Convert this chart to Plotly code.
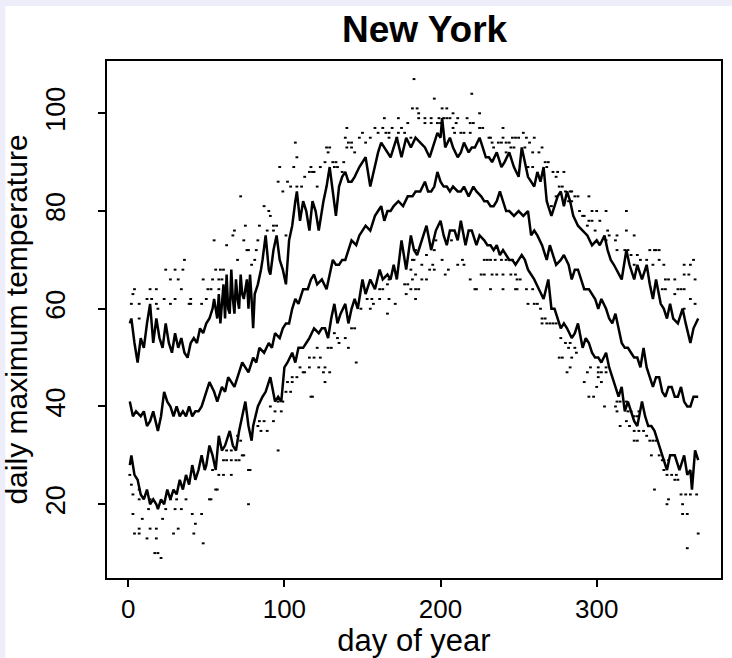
import plotly.graph_objects as go

# ---- upper curve ----
upper_days = [1, 2, 4, 6, 8, 10, 12, 14, 16, 18, 20, 22, 24, 26, 28, 30, 32, 34, 36, 38,
              40, 42, 44, 46, 48, 50, 52, 54, 55, 57, 58, 59, 60, 61, 62, 63, 64, 65, 66, 67,
              68, 69, 70, 71, 72, 73, 74, 75, 76, 77, 78, 79, 80, 81, 83, 85, 86, 88, 90, 91,
              93, 95, 97, 99, 101, 103, 105, 107, 108, 110, 112, 114, 116, 118, 120, 122, 125, 127, 129, 131,
              133, 135, 137, 139, 141, 143, 145, 148, 150, 152, 155, 158, 160, 162, 164, 166, 168, 170, 172, 175,
              178, 181, 184, 187, 190, 193, 196, 198, 200, 201, 203, 206, 208, 211, 213, 215, 218, 220, 222, 225,
              227, 229, 231, 233, 236, 239, 241, 244, 247, 250, 252, 254, 256, 258, 260, 262, 264, 266, 268, 270,
              271, 273, 275, 277, 279, 281, 283, 285, 288, 291, 294, 297, 300, 302, 305, 307, 309, 311, 314, 316,
              319, 321, 324, 326, 329, 332, 334, 336, 338, 341, 343, 345, 347, 349, 352, 355, 357, 359, 360, 362,
              365]
upper_vals = [57, 58, 53, 49, 54, 52, 57, 61, 53, 58, 54, 52, 57, 53, 51, 55, 52, 54, 51, 50,
              53, 54, 53, 56, 55, 57, 58, 60, 62, 58, 63, 57, 61, 65, 58, 67, 60, 59, 68, 62,
              59, 66, 62, 60, 67, 63, 62, 64, 66, 60, 67, 62, 56, 63, 65, 68, 70, 75, 68, 67,
              72, 75, 70, 68, 65, 74, 77, 82, 84, 78, 82, 80, 76, 82, 80, 76, 82, 85, 89, 84,
              79, 85, 87, 88, 86, 86, 87, 89, 90, 91, 85, 89, 92, 94, 93, 92, 91, 93, 95, 91,
              95, 93, 95, 94, 93, 91, 94, 96, 95, 99, 93, 95, 93, 91, 92, 94, 92, 93, 93, 95,
              93, 91, 91, 90, 92, 89, 90, 92, 89, 87, 93, 90, 87, 86, 85, 88, 86, 89, 82, 80,
              79, 81, 83, 84, 81, 84, 82, 79, 77, 76, 75, 73, 74, 73, 75, 72, 70, 69, 67, 66,
              72, 69, 66, 69, 66, 69, 65, 62, 66, 61, 60, 58, 61, 58, 57, 60, 57, 54, 53, 56,
              58]

# ---- middle curve ----
middle_days = [1, 3, 5, 8, 10, 12, 14, 16, 19, 21, 23, 25, 27, 29, 31, 33, 35, 37, 39, 41,
               43, 45, 47, 49, 52, 55, 57, 60, 62, 64, 66, 68, 70, 73, 75, 77, 80, 82, 84, 87,
               90, 92, 94, 97, 99, 101, 103, 105, 107, 109, 112, 115, 117, 119, 121, 124, 127, 129, 131, 133,
               135, 137, 139, 141, 143, 146, 148, 150, 152, 155, 158, 160, 162, 164, 166, 168, 170, 173, 176, 179,
               182, 184, 187, 190, 192, 194, 196, 198, 200, 202, 204, 206, 208, 211, 213, 215, 218, 221, 223, 226,
               228, 230, 232, 234, 236, 238, 240, 242, 244, 247, 250, 253, 256, 258, 260, 262, 265, 268, 270, 272,
               274, 277, 279, 282, 284, 286, 288, 290, 292, 295, 297, 299, 301, 303, 306, 308, 310, 312, 314, 316,
               318, 320, 322, 324, 326, 328, 330, 332, 334, 336, 338, 340, 342, 344, 346, 348, 350, 352, 354, 356,
               358, 360, 362, 365]
middle_vals = [41, 38, 39, 38, 39, 36, 37, 39, 35, 38, 43, 41, 40, 38, 40, 38, 39, 38, 40, 38,
               39, 39, 40, 42, 45, 43, 41, 44, 43, 46, 45, 44, 46, 49, 48, 47, 50, 49, 52, 51,
               53, 52, 55, 54, 56, 57, 57, 60, 62, 61, 64, 64, 66, 67, 65, 66, 64, 67, 70, 69,
               69, 70, 70, 72, 74, 73, 75, 76, 77, 76, 79, 80, 81, 78, 80, 80, 81, 82, 81, 83,
               83, 84, 84, 86, 84, 84, 85, 88, 86, 85, 85, 84, 85, 84, 84, 85, 83, 85, 84, 83,
               82, 82, 81, 81, 82, 84, 82, 80, 80, 79, 80, 79, 80, 75, 76, 75, 73, 70, 73, 71,
               69, 70, 71, 69, 66, 68, 68, 66, 64, 64, 63, 62, 60, 62, 60, 58, 57, 59, 56, 53,
               52, 52, 51, 50, 50, 48, 52, 48, 46, 44, 46, 46, 43, 42, 44, 44, 42, 42, 44, 41,
               40, 40, 42, 42]

# ---- lower curve ----
lower_days = [1, 2, 4, 6, 8, 10, 12, 14, 16, 18, 19, 21, 23, 25, 27, 29, 31, 33, 35, 37,
              39, 41, 43, 45, 47, 49, 50, 52, 54, 56, 58, 60, 62, 65, 67, 69, 71, 73, 75, 77,
              79, 80, 83, 86, 88, 91, 94, 96, 98, 100, 102, 105, 107, 109, 112, 114, 116, 119, 122, 124,
              126, 128, 130, 132, 134, 136, 139, 141, 143, 145, 147, 150, 152, 155, 158, 161, 163, 166, 168, 170,
              172, 175, 178, 181, 183, 185, 187, 189, 191, 194, 197, 200, 202, 204, 206, 209, 211, 213, 216, 218,
              220, 223, 225, 228, 230, 232, 234, 236, 238, 240, 242, 244, 246, 248, 250, 252, 254, 256, 258, 260,
              263, 266, 269, 271, 273, 275, 277, 279, 281, 284, 286, 288, 291, 293, 295, 297, 299, 301, 303, 306,
              308, 310, 312, 314, 316, 318, 320, 322, 324, 326, 329, 331, 333, 335, 337, 339, 341, 343, 345, 347,
              350, 352, 353, 356, 358, 360, 361, 363, 365]
lower_vals = [28, 30, 26, 25, 22, 21, 23, 20, 21, 20, 19, 21, 20, 23, 21, 23, 22, 25, 23, 26,
              24, 28, 25, 27, 30, 27, 28, 32, 30, 27, 34, 31, 32, 35, 32, 31, 35, 38, 41, 36,
              33, 36, 40, 42, 43, 46, 41, 42, 41, 48, 49, 51, 49, 52, 52, 53, 54, 56, 55, 56,
              56, 54, 58, 61, 57, 59, 61, 57, 60, 62, 60, 66, 63, 66, 64, 68, 66, 67, 66, 69,
              66, 74, 68, 75, 72, 71, 73, 75, 77, 72, 76, 78, 75, 73, 76, 76, 74, 78, 73, 76,
              76, 73, 75, 74, 73, 73, 72, 73, 71, 72, 71, 70, 70, 69, 70, 71, 70, 68, 67, 66,
              64, 62, 66, 60, 60, 58, 56, 57, 56, 54, 55, 57, 52, 54, 53, 51, 50, 50, 49, 51,
              48, 46, 44, 42, 44, 39, 41, 39, 37, 36, 41, 38, 36, 36, 35, 33, 31, 29, 27, 30,
              30, 28, 27, 30, 26, 27, 23, 31, 29]

# ---- extreme observations above the upper curve ----
high_days = [36, 24, 30, 35, 27, 32, 48, 4, 3, 14, 18, 34, 51, 12, 15, 23, 30, 40, 50, 2, 7, 18, 27, 40, 47, 7, 19, 39,
             107, 108, 97, 106, 117, 116, 118, 113, 96, 102, 99, 104, 108, 111, 72, 87, 90, 91, 75, 84, 93, 95,
             68, 67, 89, 93, 101, 55, 74, 83, 63, 77, 82, 76, 70, 56, 59, 61, 79, 81, 54, 58, 60, 53, 58,
             183, 182, 164, 173, 179, 140, 158, 163, 169, 175, 150, 160, 165, 167, 173, 177, 139, 148, 155, 167, 172,
             181, 141, 143, 152, 127, 129, 140, 143, 128, 145, 126, 131, 133, 138, 123, 132, 134, 137, 119, 121,
             220, 196, 185, 186, 201, 204, 208, 225, 186, 190, 194, 199, 202, 204, 206, 211, 217, 190, 194, 198,
             200, 210, 219, 221, 225, 227, 208, 240, 209, 213, 215, 219, 231, 232, 240, 246, 248, 233, 237, 239,
             242, 244, 234, 245, 247, 242,
             253, 250, 255, 260, 257, 265, 254, 259, 263, 267, 269, 268, 256, 259, 272, 275, 279, 274, 276, 278,
             280, 283, 284, 286, 288, 295, 274, 282, 284, 271, 289, 292, 297, 300, 306, 295, 297, 302, 291, 294,
             299, 307, 312, 313, 313, 306, 308,
             319, 324, 319, 318, 320, 340, 338, 322, 326, 334, 337, 328, 332, 340, 336, 324, 343, 362, 356, 360,
             356, 359, 363, 344, 346, 350, 352, 354, 356, 360, 363, 356, 342, 344, 350]
high_vals = [70, 68, 68, 68, 66, 66, 66, 64, 63, 64, 64, 64, 64, 62, 62, 62, 62, 62, 62, 61, 61, 61, 61, 61, 61, 58, 60, 61,
             94, 91, 89, 89, 89, 88, 88, 87, 86, 86, 84, 85, 85, 85, 83, 81, 80, 79, 77, 77, 77, 77,
             76, 75, 76, 76, 75, 74, 74, 74, 73, 72, 72, 72, 70, 68, 68, 68, 69, 70, 66, 66, 66, 64, 64,
             107, 101, 99, 99, 98, 97, 97, 97, 97, 97, 96, 96, 96, 96, 96, 96, 95, 95, 95, 95, 95,
             95, 94, 94, 94, 93, 93, 93, 93, 92, 92, 90, 90, 90, 90, 89, 89, 89, 88, 88, 85,
             104, 103, 101, 100, 101, 101, 100, 100, 99, 99, 99, 99, 99, 99, 99, 99, 99, 98, 98, 98,
             98, 98, 98, 98, 97, 97, 97, 97, 96, 96, 96, 96, 95, 95, 95, 95, 95, 94, 94, 94,
             94, 94, 93, 93, 93, 92,
             96, 95, 95, 95, 94, 93, 93, 92, 92, 90, 90, 89, 89, 89, 88, 88, 88, 87, 85, 85,
             84, 84, 84, 83, 83, 83, 83, 82, 82, 81, 80, 79, 80, 80, 80, 78, 78, 78, 79, 77,
             76, 76, 74, 75, 72, 74, 75,
             80, 75, 76, 72, 72, 72, 72, 71, 71, 72, 72, 70, 70, 70, 69, 69, 69, 70, 69, 69,
             67, 67, 66, 66, 66, 66, 64, 64, 64, 62, 61, 60, 64, 64, 63]

# ---- extreme observations below the lower curve ----
low_days = [1, 2, 3, 7, 7, 14, 27, 31, 37, 13, 24, 30, 34, 3, 9, 22, 41, 47, 7, 14, 18, 32, 43, 4, 7, 12, 18, 29, 42,
            48, 17, 19, 21,
            116, 110, 116, 112, 113, 105, 108, 102, 105, 101, 104, 96, 99, 118, 91, 94, 98, 84, 87, 93, 83, 85, 89,
            70, 72, 63, 66, 61, 63, 66, 69, 71, 73, 74, 54, 58, 61, 66, 77, 78, 96, 56, 57, 52, 53, 77,
            184, 182, 181, 182, 181, 184, 167, 177, 179, 161, 163, 166, 153, 156, 161, 167, 157, 171, 149, 155,
            166, 178, 143, 145, 132, 139, 134, 135, 141, 128, 130, 121, 119, 123, 146, 122, 126, 125, 129, 126, 117,
            183, 191, 196, 197, 207, 188, 193, 196, 205, 201, 211, 214, 215, 228, 230, 232, 235, 239, 242, 246,
            226, 228, 233, 236, 240, 245, 248, 195, 203, 188, 191, 219, 223, 232, 240, 184, 186, 222, 248, 184,
            249, 251, 249, 255, 259, 256, 260, 262, 264, 265, 267, 265, 268, 270, 272, 274, 277, 280, 283, 282,
            286, 287, 276, 278, 284, 283, 281, 294, 301, 303, 306, 296, 301, 306, 292, 301, 303, 300, 295, 298,
            305, 313, 312, 313, 315,
            315, 319, 320, 322, 324, 326, 327, 319, 321, 324, 327, 330, 332, 324, 326, 334, 336, 338, 335, 340,
            342, 343, 346, 345, 348, 351, 350, 352, 343, 337, 346, 345, 354, 357, 360, 364, 355, 355, 358, 365,
            358]
low_vals = [26, 24, 22, 23, 21, 21, 21, 21, 21, 19, 19, 19, 19, 18, 17, 17, 18, 18, 15, 15, 15, 15, 16, 14, 14, 13, 13, 14, 14,
            12, 10, 10, 9,
            50, 48, 48, 47, 47, 46, 46, 45, 45, 43, 43, 41, 41, 42, 40, 39, 39, 37, 37, 37, 36, 35, 35,
            34, 33, 31, 31, 29, 29, 29, 29, 29, 30, 30, 27, 26, 26, 26, 27, 27, 31, 23, 23, 21, 21, 20,
            72, 70, 68, 66, 64, 62, 66, 65, 65, 64, 64, 65, 62, 62, 62, 62, 61, 61, 60, 60,
            59, 63, 56, 56, 55, 54, 54, 53, 52, 52, 52, 52, 50, 50, 49, 48, 48, 47, 47, 45, 42,
            70, 71, 72, 74, 74, 69, 68, 68, 68, 70, 69, 70, 69, 70, 70, 70, 70, 70, 70, 70,
            67, 67, 67, 67, 67, 67, 67, 69, 67, 66, 66, 66, 64, 64, 64, 64, 64, 64, 64, 67,
            66, 66, 64, 64, 64, 61, 61, 61, 60, 58, 58, 57, 57, 57, 57, 57, 54, 53, 53, 52,
            52, 51, 50, 50, 50, 48, 47, 47, 47, 47, 47, 48, 48, 48, 45, 46, 45, 44, 42, 42,
            40, 41, 40, 39, 36,
            41, 41, 39, 39, 38, 38, 39, 37, 36, 35, 35, 35, 34, 33, 33, 33, 33, 33, 30, 30,
            29, 29, 29, 26, 26, 26, 25, 25, 27, 23, 21, 20, 22, 22, 22, 22, 20, 18, 18, 14,
            11]

x_ticks = [0, 100, 200, 300]
y_ticks = [20, 40, 60, 80, 100]

FONT = "Liberation Sans, Arial, sans-serif"

fig = go.Figure()

dot_style = dict(symbol="line-ew", size=2, color="black", line=dict(width=2, color="black"))
fig.add_trace(go.Scatter(x=high_days, y=high_vals, mode="markers", marker=dot_style,
                         showlegend=False, hoverinfo="skip"))
fig.add_trace(go.Scatter(x=low_days, y=low_vals, mode="markers", marker=dot_style,
                         showlegend=False, hoverinfo="skip"))

for d, v in [(upper_days, upper_vals), (middle_days, middle_vals), (lower_days, lower_vals)]:
    fig.add_trace(go.Scatter(x=d, y=v, mode="lines", line=dict(color="black", width=2.5),
                             showlegend=False))

fig.update_layout(
    width=732, height=658,
    margin=dict(l=107, r=9, t=61, b=71),
    paper_bgcolor="#EEEEFA",
    plot_bgcolor="white",
    title=dict(text="<b>New York</b>", x=0.58, xanchor="center", y=0.956, yanchor="middle",
               font=dict(family=FONT, size=37, color="black")),
    font=dict(family=FONT, color="black"),
    shapes=[dict(type="rect", xref="paper", yref="paper", x0=-0.1656, x1=1.1, y0=-0.2, y1=1.1065,
                 fillcolor="white", line=dict(width=0), layer="below")],
)

fig.update_xaxes(
    range=[-13.6, 379.6], tickvals=x_ticks, ticktext=[str(t) for t in x_ticks],
    ticks="outside", ticklen=7, tickwidth=1.5, tickcolor="black",
    showline=True, linecolor="black", linewidth=1.5, mirror=True,
    showgrid=False, zeroline=False,
    tickfont=dict(family=FONT, size=26, color="black"),
    title=dict(text="day of year", font=dict(family=FONT, size=31, color="black"), standoff=3),
)
fig.update_yaxes(
    range=[4.9, 110.7], tickvals=y_ticks, ticktext=[str(t) for t in y_ticks],
    ticks="outside", ticklen=7, tickwidth=1.5, tickcolor="black", tickangle=-90,
    ticklabelstandoff=22,
    showline=True, linecolor="black", linewidth=1.5, mirror=True,
    showgrid=False, zeroline=False,
    tickfont=dict(family=FONT, size=27, color="black"),
    title=dict(text="daily maximum temperature", font=dict(family=FONT, size=30, color="black"), standoff=6),
)

fig.write_html("out.html")
